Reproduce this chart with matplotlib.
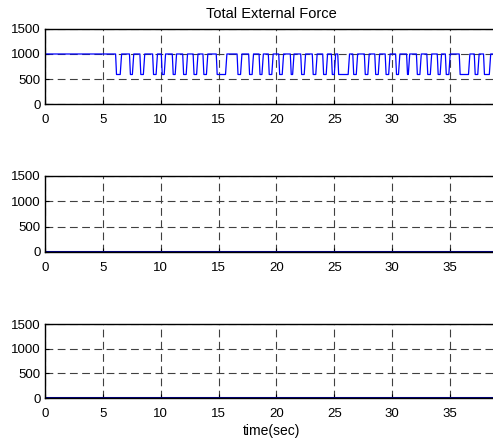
import matplotlib.pyplot as plt
import numpy as np

plt.rcParams['font.family'] = ['Liberation Sans', 'DejaVu Sans']

# force trace: high level, low level and the low intervals (sec)
f_high = 1000
f_low = 590
f_start = 580
low_start = [6.1, 7.3, 8.2, 9.3, 10.05, 11.0, 11.9, 12.8, 13.65, 14.8, 16.6, 17.6,
             18.5, 19.3, 20.2, 21.2, 22.1, 23.1, 24.0, 24.75, 25.3, 26.6, 27.6,
             28.5, 29.4, 30.3, 31.25, 32.1, 33.0, 33.9, 34.6, 35.8, 37.1, 37.9, 38.8]
low_end = [6.5, 7.55, 8.5, 9.6, 10.3, 11.25, 12.2, 13.1, 13.95, 15.6, 16.9, 17.9,
           18.75, 19.6, 20.5, 21.4, 22.4, 23.4, 24.3, 25.0, 26.2, 26.9, 27.9,
           28.8, 29.7, 30.55, 31.4, 32.4, 33.3, 34.15, 34.9, 36.6, 37.4, 38.4, 39.3]
t_end = 39.3

# the other two panels stay at zero
zero_t = [0, t_end]
zero_f = [0, 0]

xticks = [0, 5, 10, 15, 20, 25, 30, 35]
yticks = [0, 500, 1000, 1500]

# build the step path
t = [0, 0.02]
f = [f_start, f_high]
for a, b in zip(low_start, low_end):
    t += [a, a + 0.08, b, b + 0.12]
    f += [f_high, f_low, f_low, f_high]
t.append(t_end)
f.append(f_high)

fig = plt.figure(figsize=(4.93, 4.42), dpi=100)
boxes = [(0.0913, 0.7647, 0.92, 0.1697),
         (0.0913, 0.4299, 0.92, 0.172),
         (0.0913, 0.0995, 0.92, 0.167)]
axes = [fig.add_axes(b) for b in boxes]

axes[0].plot(t, f, color='#0000ff', lw=0.9)
axes[1].plot(zero_t, zero_f, color='#00008b', lw=2.2)
axes[2].plot(zero_t, zero_f, color='#00008b', lw=2.2)

for ax in axes:
    ax.set_xlim(0, 39.2)
    ax.set_ylim(0, 1500)
    ax.set_xticks(xticks)
    ax.set_yticks(yticks)
    ax.tick_params(direction='in', labelsize=9.5, length=3)
    ax.tick_params(axis='x', pad=7)
    ax.tick_params(axis='y', pad=3)
    ax.grid(True, color='0.25', lw=0.8, linestyle=(0, (7, 4)))
    ax.spines['right'].set_visible(False)
    for s in ('left', 'bottom', 'top'):
        ax.spines[s].set_linewidth(1.0)

axes[0].set_title('Total External Force', fontsize=10.5, pad=8)
axes[2].set_xlabel('time(sec)', fontsize=10, labelpad=3)

fig.savefig('out.png', dpi=100)
